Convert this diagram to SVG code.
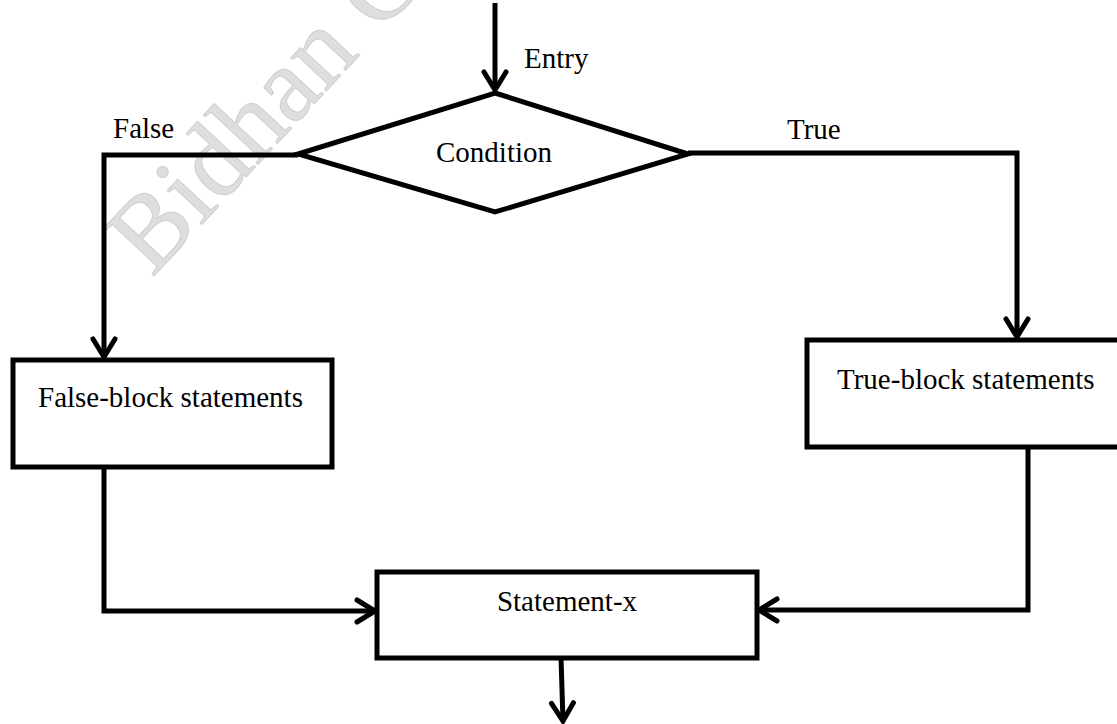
<svg xmlns="http://www.w3.org/2000/svg" width="1117" height="724" viewBox="0 0 1117 724">
<style>
.ln{fill:none;stroke:#000;stroke-width:5;stroke-linejoin:miter}
.box{fill:#fff;stroke:#000;stroke-width:5}
.t{font-family:"Liberation Serif","Times New Roman",serif;font-size:29px;fill:#000}
.wm{font-family:"Liberation Serif","Times New Roman",serif;font-size:106px;fill:#dedede;stroke:#cfcfcf;stroke-width:1}
</style>
<defs>
<marker id="ah" markerUnits="userSpaceOnUse" markerWidth="30" markerHeight="30" refX="0" refY="0" orient="auto" overflow="visible">
<path d="M-18,-11 L0,0 L-18,11" fill="none" stroke="#000" stroke-width="5" stroke-linecap="round"/>
</marker>
</defs>
<rect width="1117" height="724" fill="#fff"/>
<text class="wm" transform="translate(152,278) rotate(-47)">Bidhan C</text>
<g id="connectors">
<path class="ln" d="M495,3 L495,90" marker-end="url(#ah)"/>
<path class="ln" d="M298,155 L104,155 L104,357" marker-end="url(#ah)"/>
<path class="ln" d="M688,153 L1017,153 L1017,337" marker-end="url(#ah)"/>
<path class="ln" d="M104,467 L104,611 L375,611" marker-end="url(#ah)"/>
<path class="ln" d="M1028,447 L1028,610 L759,610" marker-end="url(#ah)"/>
<path class="ln" d="M561,658 L563,721" marker-end="url(#ah)"/>
</g>
<g id="labels">
<text class="t" x="524" y="68">Entry</text>
<text class="t" x="113" y="138">False</text>
<text class="t" x="787" y="139">True</text>
</g>
<g id="condition">
<polygon class="box" points="495,93 688,154 495,212 298,154"/>
<text class="t" x="494" y="162" text-anchor="middle">Condition</text>
</g>
<g id="false-block">
<rect class="box" x="13" y="360" width="319" height="107"/>
<text class="t" x="38" y="407">False-block statements</text>
</g>
<g id="true-block">
<rect class="box" x="807" y="340" width="320" height="107"/>
<text class="t" x="837" y="389">True-block statements</text>
</g>
<g id="statement-x">
<rect class="box" x="377" y="572" width="380" height="86"/>
<text class="t" x="567" y="611" text-anchor="middle">Statement-x</text>
</g>
</svg>
